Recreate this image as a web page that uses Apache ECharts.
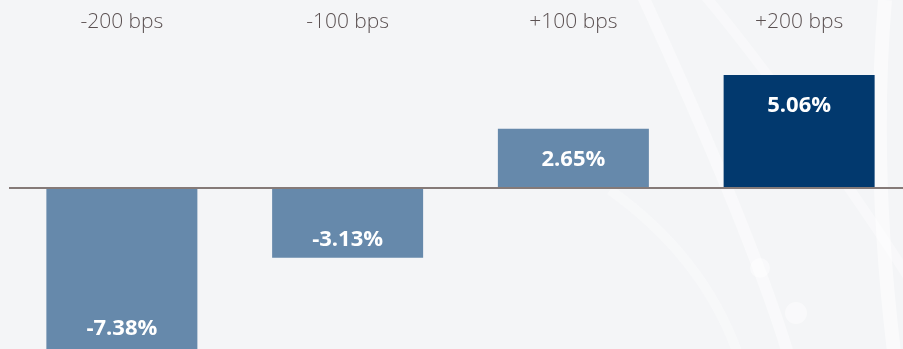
<!DOCTYPE html>
<html>
<head>
<meta charset="utf-8">
<script src="https://cdn.jsdelivr.net/npm/echarts@6/dist/echarts.min.js"></script>
<style>
html,body{margin:0;padding:0;background:#f4f5f7;}
#chart{width:903px;height:349px;}
</style>
</head>
<body>
<div id="chart"></div>
<script>
const categories = ['-200 bps', '-100 bps', '+100 bps', '+200 bps'];
const values = [-7.38, -3.13, 2.65, 5.06];
const barColors = ['#6689ab', '#6689ab', '#6689ab', '#02396e'];
const labelDistances = [13, 7, 20, 20];

const chart = echarts.init(document.getElementById('chart'), null, {renderer: 'canvas'});

const data = values.map((v, i) => ({
  value: v,
  itemStyle: {color: barColors[i]},
  label: {
    position: v >= 0 ? 'insideTop' : 'insideBottom',
    distance: labelDistances[i]
  }
}));

chart.setOption({
  backgroundColor: '#f4f5f7',
  animation: false,
  graphic: [
    {type: 'bezierCurve', z: -10, shape: {x1: 640, y1: -10, cpx1: 700, cpy1: 120, cpx2: 760, cpy2: 260, x2: 790, y2: 360}, style: {stroke: 'rgba(255,255,255,0.45)', lineWidth: 12, fill: null}},
    {type: 'bezierCurve', z: -10, shape: {x1: 700, y1: -10, cpx1: 760, cpy1: 60, cpx2: 860, cpy2: 200, x2: 910, y2: 280}, style: {stroke: 'rgba(255,255,255,0.35)', lineWidth: 10, fill: null}},
    {type: 'bezierCurve', z: -10, shape: {x1: 885, y1: 0, cpx1: 875, cpy1: 120, cpx2: 880, cpy2: 240, x2: 895, y2: 360}, style: {stroke: 'rgba(255,255,255,0.5)', lineWidth: 14, fill: null}},
    {type: 'bezierCurve', z: -10, shape: {x1: 610, y1: 190, cpx1: 680, cpy1: 240, cpx2: 720, cpy2: 300, x2: 740, y2: 360}, style: {stroke: 'rgba(255,255,255,0.3)', lineWidth: 10, fill: null}},
    {type: 'circle', z: -9, shape: {cx: 760, cy: 268, r: 10}, style: {fill: 'rgba(255,255,255,0.45)'}},
    {type: 'circle', z: -9, shape: {cx: 796, cy: 313, r: 11}, style: {fill: 'rgba(255,255,255,0.45)'}}
  ],
  grid: {left: 9, top: 40.6, width: 903, height: 317, containLabel: false, outerBoundsMode: 'none'},
  xAxis: {
    type: 'category',
    position: 'top',
    data: categories,
    axisLine: {show: false},
    axisTick: {show: false},
    axisLabel: {
      margin: 8,
      fontFamily: '"Open Sans", sans-serif',
      fontWeight: 300,
      fontSize: 21,
      color: '#5b5152'
    }
  },
  yAxis: {
    type: 'value',
    min: -7.6,
    max: 6.6,
    show: false,
    splitLine: {show: false}
  },
  series: [{
    type: 'bar',
    data: data,
    barWidth: 151,
    clip: false,
    label: {
      show: true,
      formatter: p => p.value.toFixed(2) + '%',
      color: '#ffffff',
      fontFamily: '"Open Sans", sans-serif',
      fontWeight: 'bold',
      fontSize: 22
    },
    markLine: {
      silent: true,
      symbol: 'none',
      label: {show: false},
      lineStyle: {color: '#857a78', width: 2, type: 'solid'},
      data: [{yAxis: 0}]
    }
  }]
});
</script>
</body>
</html>
